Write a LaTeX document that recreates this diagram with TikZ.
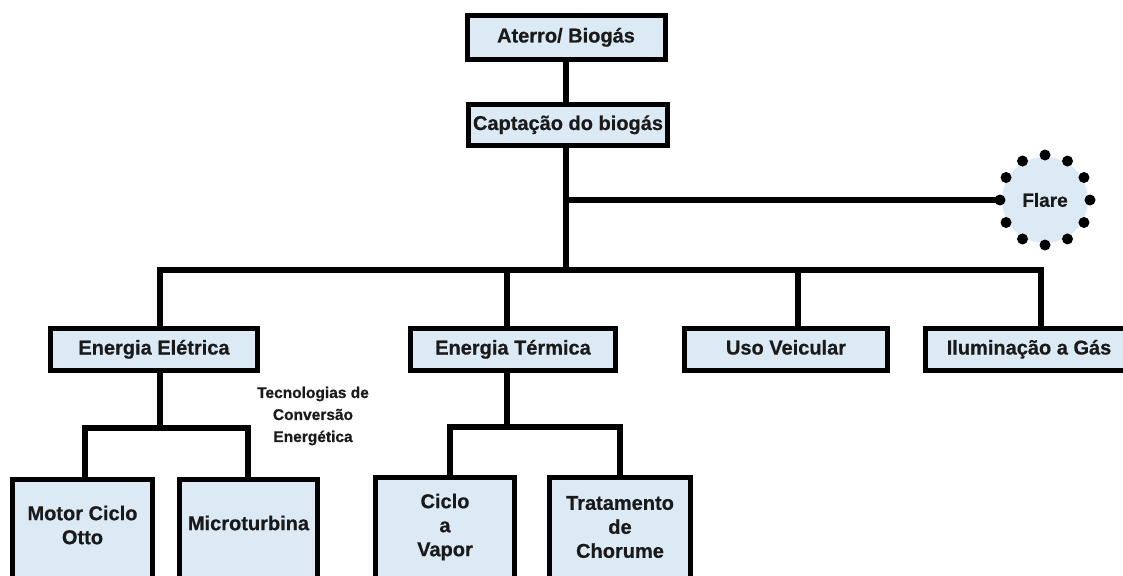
\documentclass[tikz,border=0pt]{standalone}
\usepackage{fontspec}
\setmainfont{Liberation Sans}[BoldFeatures={FakeBold=0.6}]
\definecolor{boxblue}{HTML}{DCEAF6}
\definecolor{txt}{HTML}{1A1A1A}
\begin{document}
\begin{tikzpicture}[x=1pt,y=-1pt,
  box/.style={draw=black, line width=5pt, fill=boxblue, text=txt,
    font=\bfseries\fontsize{20}{24}\selectfont, inner sep=0pt, align=center,
    text height=14.5pt, text depth=4.5pt},
  lbl/.style={text=txt, font=\bfseries\fontsize{20}{24}\selectfont, inner sep=0pt, align=center},
  note/.style={text=txt, font=\bfseries\fontsize{15.5}{22}\selectfont, inner sep=0pt, align=center},
  conn/.style={draw=black, line width=6pt, line join=miter},
  flarec/.style={circle, fill=boxblue, minimum size=86pt, inner sep=0pt, text=txt,
    font=\bfseries\fontsize{19}{22}\selectfont}]
\useasboundingbox (0,0) rectangle (1123,575);
\fill[white] (0,0) rectangle (1123,575);
\clip (0,0) rectangle (1123,575);

% level 0/1
\node[box, minimum width=198pt, minimum height=44pt] (aterro) at (566,37.5) {Aterro/ Biogás};
\node[box, minimum width=199pt, minimum height=41pt] (capt) at (568,125) {Captação do biogás};

% flare
\node[flarec] (flare) at (1045,200) {Flare};
\foreach \a in {0,30,...,330} \fill[black] (flare.center) ++(\a:45pt) circle (5.5pt);

% level 2
\node[box, minimum width=207pt, minimum height=42pt] (elet) at (154,349.5) {Energia Elétrica};
\node[box, minimum width=205pt, minimum height=42pt] (term) at (513,349.5) {Energia Térmica};
\node[box, minimum width=203pt, minimum height=42pt] (uso) at (786,349.5) {Uso Veicular};
\node[box, minimum width=202pt, minimum height=42pt] (ilum) at (1026.5,349.5) {};
\node[lbl, text height=14.5pt, text depth=4.5pt] (ilumt) at (1029,349.5) {Iluminação a Gás};

% level 3 boxes (cut by the lower edge)
\node[box, anchor=north, minimum width=140pt, minimum height=160pt] (otto) at (82.5,477) {};
\node[box, anchor=north, minimum width=138pt, minimum height=160pt] (micro) at (248.5,477) {};
\node[box, anchor=north, minimum width=139pt, minimum height=160pt] (vapor) at (445,475) {};
\node[box, anchor=north, minimum width=141pt, minimum height=160pt] (chor) at (620,475) {};
\node[lbl] (ottot) at (82.5,525) {Motor Ciclo\\Otto};
\node[lbl] (microt) at (248.5,523) {Microturbina};
\node[lbl] (vaport) at (445,527) {Ciclo\\a\\Vapor};
\node[lbl] (chort) at (620,527) {Tratamento\\de\\Chorume};

\node[note] (tec) at (313,416) {Tecnologias de\\Conversão\\Energética};

% coordinates on buses
\coordinate (fl) at (566,200);
\coordinate (b1) at (160,270);
\coordinate (b2) at (507,270);
\coordinate (bm) at (566,270);
\coordinate (b3) at (798,270);
\coordinate (b4) at (1041,270);
\coordinate (e0) at (160,428);
\coordinate (e1) at (85,428);
\coordinate (e2) at (248,428);
\coordinate (t0) at (507,427);
\coordinate (t1) at (450,427);
\coordinate (t2) at (620,427);

% connectors
\draw[conn] (aterro.south -| bm) -- (capt.north -| bm);
\draw[conn] (capt.south -| bm) -- (bm);
\draw[conn] (fl) -- (flare.west);
\draw[conn] (elet.north -| b1) -- (b1) -- (b4) -- (ilum.north -| b4);
\draw[conn] (b2) -- (term.north -| b2);
\draw[conn] (b3) -- (uso.north -| b3);
\draw[conn] (elet.south -| e0) -- (e0);
\draw[conn] (otto.north -| e1) -- (e1) -- (e2) -- (micro.north -| e2);
\draw[conn] (term.south -| t0) -- (t0);
\draw[conn] (vapor.north -| t1) -- (t1) -- (t2) -- (chor.north -| t2);
\end{tikzpicture}
\end{document}
